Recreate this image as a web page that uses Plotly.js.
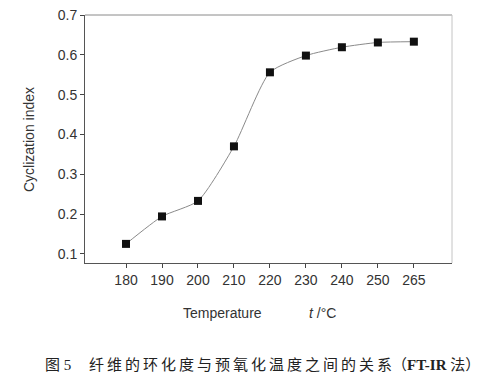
<!DOCTYPE html>
<html>
<head>
<meta charset="utf-8">
<script src="https://cdn.plot.ly/plotly-3.0.1.min.js"></script>
<style>html,body{margin:0;padding:0;background:#fff;}</style>
</head>
<body>
<div id="chart" style="width:482px;height:383px;"></div>
<script>
const temperatures = ["180", "190", "200", "210", "220", "230", "240", "250", "265"];
const cyclizationIndex = [0.125, 0.194, 0.233, 0.370, 0.556, 0.598, 0.619, 0.631, 0.633];
const yTicks = [0.1, 0.2, 0.3, 0.4, 0.5, 0.6, 0.7];
const yTickLabels = ["0.1", "0.2", "0.3", "0.4", "0.5", "0.6", "0.7"];

const L = 85, R = 452, T = 15, B = 263;
const W = R - L, H = B - T;
const px = x => (x - L) / W;
const py = y => (B - y) / H;

const trace = {
  x: temperatures,
  y: cyclizationIndex,
  type: 'scatter',
  mode: 'lines+markers',
  line: {color: '#8a8a8a', width: 1, shape: 'spline', smoothing: 0.6},
  marker: {symbol: 'square', size: 8, color: '#111'},
  hoverinfo: 'none'
};

const sp = '\u2009';
const captionMain = '纤维的环化度与预氧化温度之间的关系'.split('').join(sp);

const layout = {
  width: 482, height: 383,
  margin: {l: L, r: 482 - R, t: T, b: 383 - B},
  paper_bgcolor: '#fff', plot_bgcolor: '#fff',
  showlegend: false,
  font: {family: 'Liberation Sans, Arial, sans-serif', size: 14, color: '#333'},
  xaxis: {
    type: 'category',
    range: [-1.14, 9.06],
    showgrid: false, zeroline: false,
    showline: true, linecolor: '#555', linewidth: 1,
    ticks: 'outside', ticklen: 4, tickcolor: '#444',
    tickfont: {size: 14, color: '#333'}
  },
  yaxis: {
    range: [0.077, 0.7],
    tickvals: yTicks, ticktext: yTickLabels,
    showgrid: false, zeroline: false,
    showline: true, linecolor: '#555', linewidth: 1,
    ticks: 'outside', ticklen: 4, tickcolor: '#444',
    tickfont: {size: 14, color: '#333'}
  },
  shapes: [
    {type: 'line', xref: 'paper', yref: 'paper', x0: 0, x1: 1, y0: 1, y1: 1, line: {color: '#8a8a8a', width: 1}},
    {type: 'line', xref: 'paper', yref: 'paper', x0: 1, x1: 1, y0: 0, y1: 1, line: {color: '#c4c4c4', width: 1}}
  ],
  annotations: [
    {text: 'Cyclization index', xref: 'paper', yref: 'paper', x: px(29), y: py(140),
     textangle: -90, showarrow: false, xanchor: 'center', yanchor: 'middle',
     font: {size: 14, color: '#333'}},
    {text: 'Temperature', xref: 'paper', yref: 'paper', x: px(222), y: py(313),
     showarrow: false, xanchor: 'center', yanchor: 'middle', font: {size: 14, color: '#333'}},
    {text: '<i>t</i> /°C', xref: 'paper', yref: 'paper', x: px(322), y: py(313),
     showarrow: false, xanchor: 'center', yanchor: 'middle', font: {size: 14, color: '#333'}},
    {text: '图 5', xref: 'paper', yref: 'paper', x: px(43), y: py(365),
     showarrow: false, xanchor: 'left', yanchor: 'middle',
     font: {family: 'Liberation Serif, Noto Sans CJK SC', size: 15, color: '#222'}},
    {text: captionMain + '（<b>FT-IR</b> 法）', xref: 'paper', yref: 'paper', x: px(87), y: py(365),
     showarrow: false, xanchor: 'left', yanchor: 'middle',
     font: {family: 'Liberation Serif, Noto Sans CJK SC', size: 15, color: '#222'}}
  ]
};

Plotly.newPlot('chart', [trace], layout, {staticPlot: true, displayModeBar: false});
</script>
</body>
</html>
